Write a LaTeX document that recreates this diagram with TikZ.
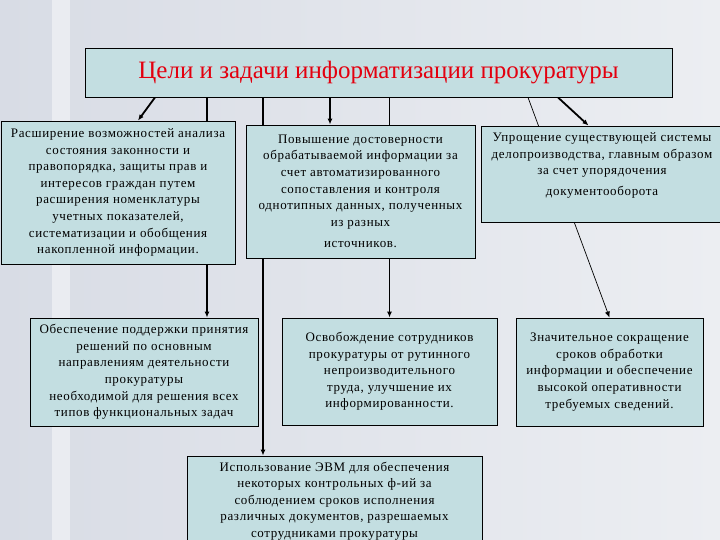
\documentclass[tikz,border=0pt]{standalone}
\usepackage{fontspec}
\setmainfont{Liberation Serif}
\newfontfamily\boxfont[LetterSpace=5]{Liberation Serif}
\usetikzlibrary{positioning,arrows.meta}

\definecolor{bgleft}{HTML}{D8DCE5}
\definecolor{bgright}{HTML}{ECEEF2}
\definecolor{boxfill}{HTML}{C3DEE1}
\definecolor{titlered}{HTML}{E3000F}

\pgfdeclarelayer{back}
\pgfsetlayers{back,main}

\begin{document}
\begin{tikzpicture}[x=1pt, y=-1pt,
      box/.style={rectangle, draw, line width=0.9pt, fill=boxfill, align=center, inner sep=2pt,
        font=\boxfont\fontsize{13}{16.6}\selectfont},
      headbox/.style={box, font=\fontsize{25}{28}\selectfont, text=titlered},
      arrow/.style={-{Latex[length=6pt,width=5pt]}, line width=1.2pt},
      fatarrow/.style={arrow, line width=1.8pt},
      link/.style={line width=1.2pt}
  ]
  \clip (0,0) rectangle (720,540);

  % Nodes (title)
  \node[headbox, minimum width=587, minimum height=49] (title) at (378.5,72.5) {Цели и задачи информатизации прокуратуры};

  % Nodes (upper row)
  \node[box, minimum width=234, minimum height=143] (expand) at (118,192.5) {Расширение возможностей анализа\\состояния законности и\\правопорядка, защиты прав и\\интересов граждан путем\\расширения номенклатуры\\учетных показателей,\\систематизации и обобщения\\накопленной информации.};
  \node[box, minimum width=229, minimum height=133] (reliab) at (360.5,191.5) {Повышение достоверности\\обрабатываемой информации за\\счет автоматизированного\\сопоставления и контроля\\однотипных данных, полученных\\из разных\\[5pt]источников.};
  \node[box, minimum width=242, minimum height=96] (simplify) at (602,174) {Упрощение существующей системы\\делопроизводства, главным образом\\за счет упорядочения\\[4pt]документооборота\\[3pt]~};

  % Nodes (lower row)
  \node[box, minimum width=228, minimum height=108] (support) at (144,372) {Обеспечение поддержки принятия\\решений по основным\\направлениям деятельности\\прокуратуры\\необходимой для решения всех\\типов функциональных задач};
  \node[box, minimum width=215, minimum height=107] (release) at (389.5,371.5) {Освобождение сотрудников\\прокуратуры от рутинного\\непроизводительного\\труда, улучшение их\\информированности.};
  \node[box, minimum width=187, minimum height=108] (reduce) at (609.5,372) {Значительное сокращение\\сроков обработки\\информации и обеспечение\\высокой оперативности\\требуемых сведений.};
  \node[box, minimum width=295, minimum height=90] (computer) at (334.5,501) {Использование ЭВМ для обеспечения\\некоторых контрольных ф-ий за\\соблюдением сроков исполнения\\различных документов, разрешаемых\\сотрудниками прокуратуры};

  \begin{pgfonlayer}{back}
    % Background
    \shade[left color=bgleft, right color=bgright] (0,0) rectangle (720,540);
    \fill[white, opacity=0.45] (52,0) rectangle (70,540);

    % Arrows
    \draw[fatarrow] ([xshift=-223.5]title.south) -- ([xshift=20]expand.north);
    \draw[arrow] ([xshift=63]support.north |- title.south) -- ([xshift=63]support.north);
    \draw[arrow] ([xshift=-71.5]computer.north |- title.south) -- ([xshift=-71.5]computer.north);
    \draw[fatarrow] ([xshift=-30.5]reliab.north |- title.south) -- ([xshift=-30.5]reliab.north);
    \draw[arrow] (release.north |- title.south) -- (release.north);
    \draw[-{Latex[length=6pt,width=5pt]}, line width=0.7pt] ([xshift=149.5]title.south) -- (reduce.north);
    \draw[fatarrow] ([xshift=179.5]title.south) -- ([xshift=-13.5]simplify.north);
  \end{pgfonlayer}

\end{tikzpicture}
\end{document}
